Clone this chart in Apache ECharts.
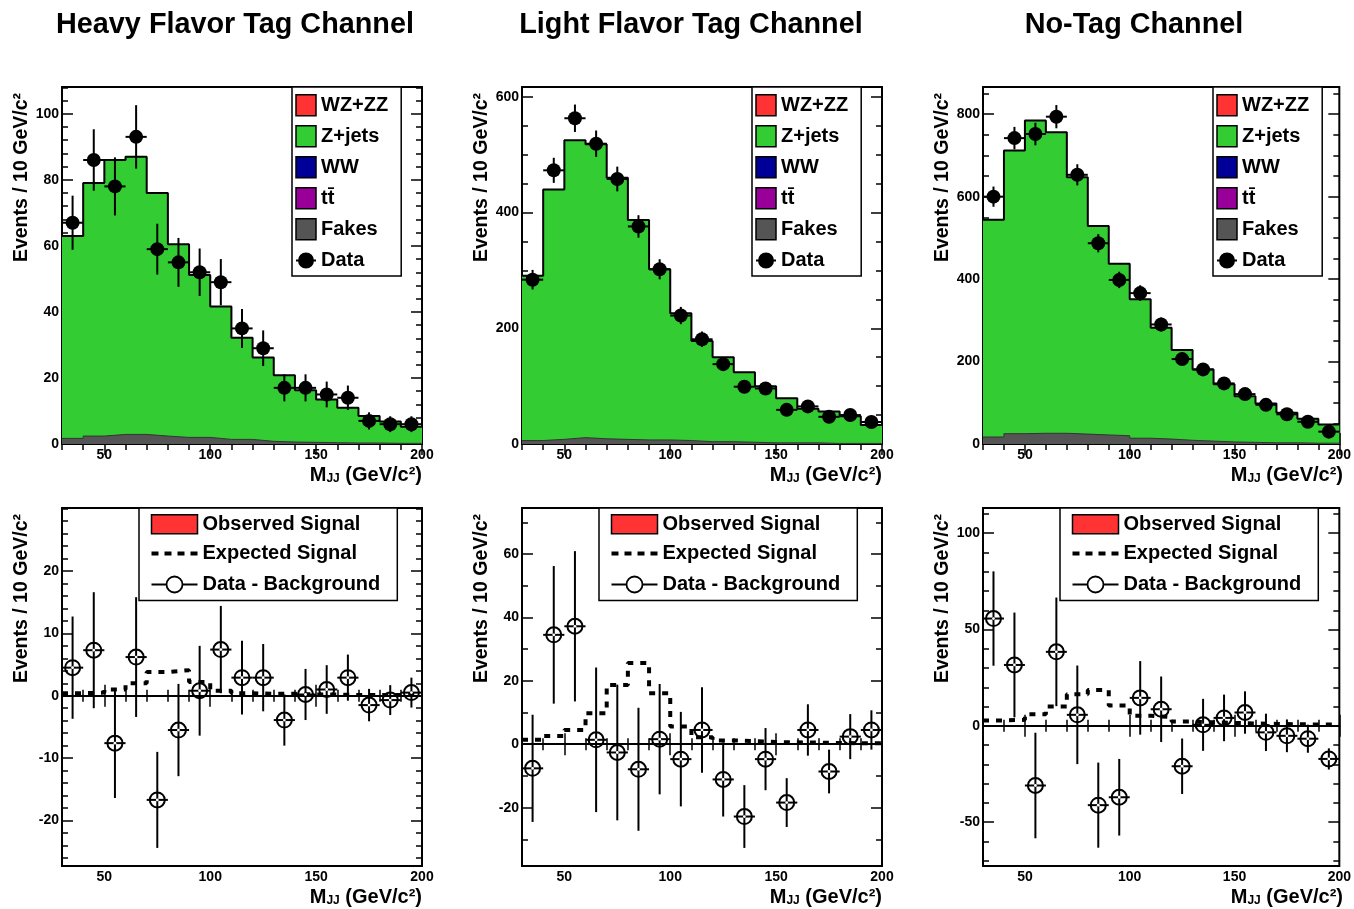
<!DOCTYPE html>
<html>
<head>
<meta charset="utf-8">
<script src="https://cdn.jsdelivr.net/npm/echarts@6/dist/echarts.min.js"></script>
<style>
  html, body { margin: 0; padding: 0; background: #fff; }
  #chart { width: 1354px; height: 909px; }
</style>
</head>
<body>
<div id="chart"></div>
<script>
// Dijet invariant mass in three tagging channels, 10 GeV/c^2 bins from 30 to 200 GeV/c^2.
const binEdges = [30, 40, 50, 60, 70, 80, 90, 100, 110, 120, 130, 140, 150, 160, 170, 180, 190, 200];
const channelTitles = ['Heavy Flavor Tag Channel', 'Light Flavor Tag Channel', 'No-Tag Channel'];

// Heavy flavor tag channel
const hfFakes = [1.7, 2.4, 2.9, 2.9, 2.4, 2.0, 2.0, 1.4, 1.4, 0.8, 0.6, 0.5, 0.4, 0.3, 0.3, 0.2, 0.2];
const hfZjets = [61.3, 76.6, 83.1, 84.1, 73.6, 58.5, 49.2, 40.2, 30.8, 25.4, 20.2, 15.8, 13.1, 10.7, 8.2, 6.6, 5.0];
const hfData = [67, 86, 78, 93, 59, 55, 52, 49, 35, 29, 17, 17, 15, 14, 7, 6, 6];
const hfErr = [8.2, 9.3, 8.8, 9.6, 7.7, 7.4, 7.2, 7.0, 5.9, 5.4, 4.1, 4.1, 3.9, 3.7, 2.6, 2.4, 2.4];
const hfDiff = [4.5, 7.3, -7.6, 6.2, -16.7, -5.5, 0.8, 7.4, 2.9, 2.9, -3.9, 0.2, 1.0, 2.9, -1.5, -0.7, 0.5];
const hfExpected = [0.4, 0.5, 1.0, 2.0, 3.8, 4.1, 2.2, 0.8, 0.4, 0.3, 0.3, 0.2, 0.2, 0.1, 0.1, 0.1, 0.1];

// Light flavor tag channel
const lfFakes = [6, 8, 11, 9, 8, 7, 7, 6, 4, 4, 3, 2, 2, 2, 1, 1, 1];
const lfZjets = [285, 432, 514, 509, 452, 380, 295, 220, 174, 146, 121, 98, 77, 59, 55, 47, 32];
const lfData = [284, 473, 563, 519, 458, 376, 302, 222, 181, 138, 99, 96, 59, 65, 47, 50, 38];
const lfErr = [16.9, 21.7, 23.7, 22.8, 21.4, 19.4, 17.4, 14.9, 13.5, 11.7, 9.9, 9.8, 7.7, 8.1, 6.9, 7.1, 6.2];
const lfDiff = [-7.6, 34.5, 37.2, 1.4, -2.6, -7.9, 1.6, -4.7, 4.5, -11.1, -22.8, -4.7, -18.4, 4.5, -8.6, 2.4, 4.5];
const lfExpected = [1.4, 2.6, 4.5, 9.8, 18.7, 25.6, 16.1, 5.6, 2.2, 1.2, 1.0, 0.7, 0.6, 0.5, 0.4, 0.3, 0.3];

// No-tag channel
const ntFakes = [17, 25, 26, 26, 24, 22, 20, 14, 12, 9, 7, 5, 4, 3, 3, 2, 2];
const ntZjets = [527, 687, 759, 730, 623, 507, 417, 337, 270, 219, 174, 140, 112, 95, 73, 59, 45];
const ntData = [600, 742, 752, 794, 653, 487, 398, 366, 290, 206, 181, 147, 121, 95, 72, 54, 30];
const ntErr = [24.5, 27.2, 27.4, 28.2, 25.6, 22.1, 19.9, 19.1, 17.0, 14.4, 13.5, 12.1, 11.0, 9.7, 8.5, 7.3, 5.5];
const ntDiff = [55.7, 31.6, -31.0, 38.4, 5.7, -41.2, -37.1, 14.5, 8.6, -21.0, 0.5, 4.1, 6.9, -3.4, -5.2, -6.7, -17.2];
const ntExpected = [2.8, 3.1, 6.0, 10.0, 16.4, 18.6, 10.5, 5.2, 4.5, 2.2, 1.8, 1.5, 1.2, 1.0, 0.8, 0.7, 0.6];

// Axis ranges and tick labels
const xRange = [30, 200];
const xTickLabels = [50, 100, 150, 200];
const xMinorStep = 10;
const hfRange = [0, 108.1], hfTicks = [0, 20, 40, 60, 80, 100], hfMinorStep = 4;
const lfRange = [0, 617], lfTicks = [0, 200, 400, 600], lfMinorStep = 50;
const ntRange = [0, 866], ntTicks = [0, 200, 400, 600, 800], ntMinorStep = 50;
const hfDiffRange = [-27.3, 30.1], hfDiffTicks = [-20, -10, 0, 10, 20], hfDiffMinorStep = 2;
const lfDiffRange = [-38.4, 74.5], lfDiffTicks = [-20, 0, 20, 40, 60], lfDiffMinorStep = 10;
const ntDiffRange = [-72.8, 113.1], ntDiffTicks = [-50, 0, 50, 100], ntDiffMinorStep = 10;

const yTitle = 'Events / 10 GeV/c²';

// Styling and layout
const FONT = '"Liberation Sans", Arial, Helvetica, sans-serif';
const COLORS = {
  wzzz: '#ff3333', zjets: '#33cc33', ww: '#000099', ttbar: '#990099', fakes: '#555555', observed: '#ff3333'
};
const COL_LEFT = [62, 522, 983];
const PLOT_W = 360;
const ROW_TOP = [87, 508];
const ROW_H = [357, 358];

const NAMES = {
  wzzz: 'WZ+ZZ', zjets: 'Z+jets', ww: 'WW', ttbar: 't\u0074\u0304', fakes: 'Fakes', data: 'Data',
  observed: 'Observed Signal', expected: 'Expected Signal', diff: 'Data - Background'
};

const panels = [
  { row: 0, col: 0, range: hfRange, ticks: hfTicks, minor: hfMinorStep, fakes: hfFakes, zjets: hfZjets, data: hfData, err: hfErr },
  { row: 0, col: 1, range: lfRange, ticks: lfTicks, minor: lfMinorStep, fakes: lfFakes, zjets: lfZjets, data: lfData, err: lfErr },
  { row: 0, col: 2, range: ntRange, ticks: ntTicks, minor: ntMinorStep, fakes: ntFakes, zjets: ntZjets, data: ntData, err: ntErr },
  { row: 1, col: 0, range: hfDiffRange, ticks: hfDiffTicks, minor: hfDiffMinorStep, diff: hfDiff, err: hfErr, expected: hfExpected },
  { row: 1, col: 1, range: lfDiffRange, ticks: lfDiffTicks, minor: lfDiffMinorStep, diff: lfDiff, err: lfErr, expected: lfExpected },
  { row: 1, col: 2, range: ntDiffRange, ticks: ntDiffTicks, minor: ntDiffMinorStep, diff: ntDiff, err: ntErr, expected: ntExpected }
];

function minorValues(range, step) {
  const out = [];
  for (let v = Math.ceil(range[0] / step) * step; v <= range[1] + 1e-9; v += step) out.push(+v.toFixed(6));
  return out;
}

// Histogram drawn as a step line through the bin edges
function stepData(vals) {
  return binEdges.map((e, i) => [e, vals[Math.min(i, vals.length - 1)]]);
}

// Points at bin centres with error and bin edges
function pointData(vals, errs) {
  return vals.map((v, i) => [(binEdges[i] + binEdges[i + 1]) / 2, v, errs[i], binEdges[i], binEdges[i + 1]]);
}

function pointRenderer(filled) {
  return function (params, api) {
    const x = api.value(0), y = api.value(1), e = api.value(2);
    const c = api.coord([x, y]);
    const top = api.coord([x, y + e]);
    const bot = api.coord([x, y - e]);
    const lo = api.coord([api.value(3), y]);
    const hi = api.coord([api.value(4), y]);
    const children = [
      { type: 'line', shape: { x1: c[0], y1: top[1], x2: c[0], y2: bot[1] }, style: { stroke: '#000', lineWidth: 2 } },
      { type: 'line', shape: { x1: lo[0], y1: c[1], x2: hi[0], y2: c[1] }, style: { stroke: '#000', lineWidth: 2 } }
    ];
    if (filled) {
      children.push({ type: 'circle', shape: { cx: c[0], cy: c[1], r: 7 }, style: { fill: '#000' } });
    } else {
      children.push({ type: 'circle', shape: { cx: c[0], cy: c[1], r: 7.5 }, style: { fill: 'none', stroke: '#000', lineWidth: 2 } });
      children.push({ type: 'circle', shape: { cx: c[0], cy: c[1], r: 1.4 }, style: { fill: '#fff' } });
    }
    return { type: 'group', children };
  };
}

// Legend icon shapes
const ICON_DATA = 'path://M0,0 M0,21 M0,10.5 L20,10.5 M3,10.5 A7,7 0 1 1 17,10.5 A7,7 0 1 1 3,10.5';
const ICON_DIFF = 'path://M0,0 M0,19 M0,9.5 L15,9.5 M31,9.5 L46,9.5 M31,9.5 A8,8 0 1 1 15,9.5 A8,8 0 1 1 31,9.5';
const ICON_DASH = 'path://M0,0 M0,19 M0,7.5 h7 v4 h-7 Z M13,7.5 h7 v4 h-7 Z M26,7.5 h7 v4 h-7 Z M39,7.5 h7 v4 h-7 Z';

const grids = [], xAxes = [], yAxes = [], series = [], legends = [], graphics = [];

const tickLine = { color: '#000', width: 1.5 };
const legendText = { fontFamily: FONT, fontSize: 20, fontWeight: 'bold', color: '#000' };

panels.forEach((p, idx) => {
  const left = COL_LEFT[p.col], top = ROW_TOP[p.row], height = ROW_H[p.row];
  grids.push({ left, top, width: PLOT_W, height, show: true, borderColor: '#000', borderWidth: 2, backgroundColor: '#fff' });

  const xMinor = minorValues(xRange, xMinorStep);
  const yMinor = minorValues(p.range, p.minor);
  const xBase = { gridIndex: idx, type: 'value', min: xRange[0], max: xRange[1], splitLine: { show: false } };
  const yBase = { gridIndex: idx, type: 'value', min: p.range[0], max: p.range[1], splitLine: { show: false } };

  xAxes.push(Object.assign({}, xBase, {
    position: 'bottom',
    axisLine: { show: true, lineStyle: { color: '#000', width: 2 } },
    axisTick: { show: true, inside: true, length: 11, customValues: xTickLabels, lineStyle: tickLine },
    axisLabel: { show: true, customValues: xTickLabels, color: '#000', fontFamily: FONT, fontSize: 14, fontWeight: 'bold', margin: 4 }
  }));
  xAxes.push(Object.assign({}, xBase, {
    position: 'bottom', axisLine: { show: false },
    axisTick: { show: true, inside: true, length: 6, customValues: xMinor, lineStyle: tickLine },
    axisLabel: { show: false }
  }));
  xAxes.push(Object.assign({}, xBase, {
    position: 'top', axisLine: { show: false },
    axisTick: { show: true, inside: true, length: 11, customValues: xTickLabels, lineStyle: tickLine },
    axisLabel: { show: false }
  }));
  xAxes.push(Object.assign({}, xBase, {
    position: 'top', axisLine: { show: false },
    axisTick: { show: true, inside: true, length: 6, customValues: xMinor, lineStyle: tickLine },
    axisLabel: { show: false }
  }));

  yAxes.push(Object.assign({}, yBase, {
    position: 'left',
    axisLine: { show: true, lineStyle: { color: '#000', width: 2 } },
    axisTick: { show: true, inside: true, length: 11, customValues: p.ticks, lineStyle: tickLine },
    axisLabel: { show: true, customValues: p.ticks, color: '#000', fontFamily: FONT, fontSize: 14, fontWeight: 'bold', margin: 3 }
  }));
  yAxes.push(Object.assign({}, yBase, {
    position: 'left', axisLine: { show: false },
    axisTick: { show: true, inside: true, length: 6, customValues: yMinor, lineStyle: tickLine },
    axisLabel: { show: false }
  }));
  yAxes.push(Object.assign({}, yBase, {
    position: 'right', axisLine: { show: false },
    axisTick: { show: true, inside: true, length: 11, customValues: p.ticks, lineStyle: tickLine },
    axisLabel: { show: false }
  }));
  yAxes.push(Object.assign({}, yBase, {
    position: 'right', axisLine: { show: false },
    axisTick: { show: true, inside: true, length: 6, customValues: yMinor, lineStyle: tickLine },
    axisLabel: { show: false }
  }));

  const ax = { xAxisIndex: idx * 4, yAxisIndex: idx * 4 };

  if (p.row === 0) {
    // Z+jets sits on top of the fakes: its outline follows the summed background
    const stackTop = p.zjets.map((v, i) => v + p.fakes[i]);
    series.push(Object.assign({
      name: NAMES.zjets, type: 'line', step: 'end', symbol: 'none', z: 2, color: COLORS.zjets,
      data: stepData(stackTop),
      lineStyle: { color: '#000', width: 2 },
      areaStyle: { color: COLORS.zjets, opacity: 1 }
    }, ax));
    series.push(Object.assign({
      name: NAMES.fakes, type: 'line', step: 'end', symbol: 'none', z: 3, color: COLORS.fakes,
      data: stepData(p.fakes),
      lineStyle: { color: '#333', width: 1 },
      areaStyle: { color: COLORS.fakes, opacity: 1 }
    }, ax));
    // Processes too small to be seen on this scale
    series.push(Object.assign({ name: NAMES.wzzz, type: 'line', data: [], symbol: 'none', color: COLORS.wzzz }, ax));
    series.push(Object.assign({ name: NAMES.ww, type: 'line', data: [], symbol: 'none', color: COLORS.ww }, ax));
    series.push(Object.assign({ name: NAMES.ttbar, type: 'line', data: [], symbol: 'none', color: COLORS.ttbar }, ax));
    series.push(Object.assign({
      name: NAMES.data, type: 'custom', z: 5, color: '#000',
      dimensions: ['x', 'y', 'err', 'lo', 'hi'], encode: { x: 0, y: 1 },
      data: pointData(p.data, p.err), renderItem: pointRenderer(true)
    }, ax));

    legends.push({
      left: left + 230, top: top, orient: 'vertical', selectedMode: false,
      itemWidth: 20, itemHeight: 21, itemGap: 8.5, itemTextGap: 5,
      padding: [7, 13, 4, 3], backgroundColor: '#fff', borderColor: '#000', borderWidth: 1.5,
      textStyle: Object.assign({ lineHeight: 21 }, legendText),
      data: [
        { name: NAMES.wzzz, icon: 'rect', itemStyle: { color: COLORS.wzzz, borderColor: '#000', borderWidth: 1.5 } },
        { name: NAMES.zjets, icon: 'rect', itemStyle: { color: COLORS.zjets, borderColor: '#000', borderWidth: 1.5 } },
        { name: NAMES.ww, icon: 'rect', itemStyle: { color: COLORS.ww, borderColor: '#000', borderWidth: 1.5 } },
        { name: NAMES.ttbar, icon: 'rect', itemStyle: { color: COLORS.ttbar, borderColor: '#000', borderWidth: 1.5 } },
        { name: NAMES.fakes, icon: 'rect', itemStyle: { color: COLORS.fakes, borderColor: '#000', borderWidth: 1.5 } },
        { name: NAMES.data, icon: ICON_DATA, itemStyle: { color: '#000', borderColor: '#000', borderWidth: 2 } }
      ]
    });
  } else {
    series.push(Object.assign({
      name: NAMES.observed, type: 'line', data: [], symbol: 'none', color: COLORS.observed
    }, ax));
    series.push(Object.assign({
      name: NAMES.expected, type: 'line', step: 'end', symbol: 'none', z: 3, color: '#000',
      data: stepData(p.expected),
      lineStyle: { color: '#000', width: 4, type: [6, 7] },
      markLine: {
        silent: true, symbol: 'none', label: { show: false },
        lineStyle: { color: '#000', width: 1.5, type: 'solid' },
        data: [{ yAxis: 0 }]
      }
    }, ax));
    series.push(Object.assign({
      name: NAMES.diff, type: 'custom', z: 5, color: '#000',
      dimensions: ['x', 'y', 'err', 'lo', 'hi'], encode: { x: 0, y: 1 },
      data: pointData(p.diff, p.err), renderItem: pointRenderer(false)
    }, ax));

    legends.push({
      left: left + 77, top: top, orient: 'vertical', selectedMode: false,
      itemWidth: 46, itemHeight: 19, itemGap: 9, itemTextGap: 14,
      padding: [6, 17, 4, 10], backgroundColor: '#fff', borderColor: '#000', borderWidth: 1.5,
      textStyle: Object.assign({ lineHeight: 19 }, legendText),
      data: [
        { name: NAMES.observed, icon: 'rect', itemStyle: { color: COLORS.observed, borderColor: '#000', borderWidth: 1.5 } },
        { name: NAMES.expected, icon: ICON_DASH, itemStyle: { color: '#000', borderWidth: 0 } },
        { name: NAMES.diff, icon: ICON_DIFF, itemStyle: { color: 'none', borderColor: '#000', borderWidth: 1.8 } }
      ]
    });
  }

  // Axis titles
  graphics.push({
    type: 'text', x: left - 40, y: top + 6, rotation: Math.PI / 2, z: 10,
    style: { text: yTitle, align: 'right', verticalAlign: 'middle', fontFamily: FONT, fontSize: 19.5, fontWeight: 'bold', fill: '#000' }
  });
  graphics.push({
    type: 'text', x: left + PLOT_W, y: top + height + 31, z: 10,
    style: {
      text: '{m|M}{s|JJ}{m| (GeV/c²)}', align: 'right', verticalAlign: 'middle',
      rich: {
        m: { fontFamily: FONT, fontSize: 20, fontWeight: 'bold', fill: '#000' },
        s: { fontFamily: FONT, fontSize: 12, fontWeight: 'bold', fill: '#000', verticalAlign: 'bottom', padding: [8, 0, 0, 0] }
      }
    }
  });
});

const titleCenters = [235, 691, 1134];
channelTitles.forEach((t, i) => {
  graphics.push({
    type: 'text', x: titleCenters[i], y: 25, z: 10,
    style: { text: t, align: 'center', verticalAlign: 'middle', fontFamily: FONT, fontSize: 28.8, fontWeight: 'bold', fill: '#000' }
  });
});

const chart = echarts.init(document.getElementById('chart'), null, { renderer: 'canvas' });
chart.setOption({
  animation: false,
  backgroundColor: '#fff',
  textStyle: { fontFamily: FONT },
  grid: grids,
  xAxis: xAxes,
  yAxis: yAxes,
  legend: legends,
  series,
  graphic: graphics
});
</script>
</body>
</html>
